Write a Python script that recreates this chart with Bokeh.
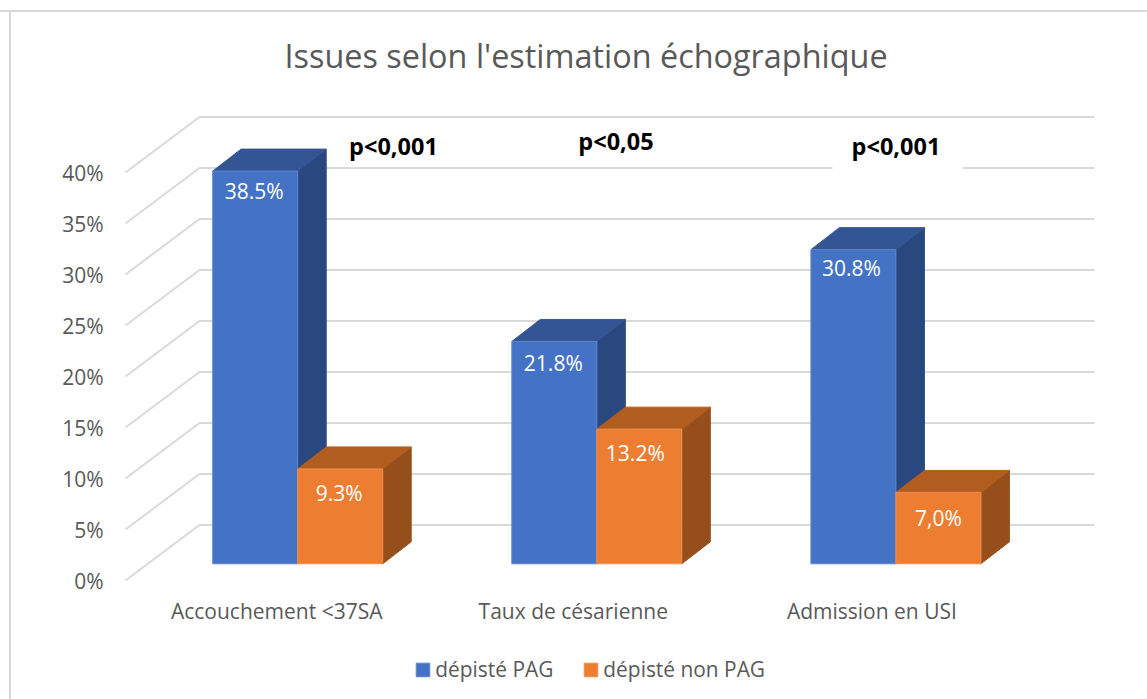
from bokeh.plotting import figure
from bokeh.models import (Range1d, LinearAxis, FixedTicker, Legend, LegendItem,
                          ColumnDataSource, NumeralTickFormatter)
from bokeh.embed import file_html
from bokeh.resources import INLINE
from bokeh.core.properties import value

# ---- data ----
categories = ["Accouchement <37SA", "Taux de césarienne", "Admission en USI"]
depiste_pag = [38.5, 21.8, 30.8]
depiste_non_pag = [9.3, 13.2, 7.0]
labels_pag = ["38.5%", "21.8%", "30.8%"]
labels_non_pag = ["9.3%", "13.2%", "7,0%"]
y_ticks = [0, 5, 10, 15, 20, 25, 30, 35, 40]
title_text = "Issues selon l'estimation échographique"
series_names = ["dépisté PAG", "dépisté non PAG"]
p_values = ["p<0,001", "p<0,05", "p<0,001"]

# ---- geometry: image pixels -> data ----
W, H = 1147, 699
FL, FR, FT, FB = 118, W, 95, H           # frame edges in image pixels
X0, XS = 297.2, 299.1                    # pixel of category 0 boundary, px per category
Y0, YS = 563.3, 10.2                     # pixel of value 0 at bar front, px per percent
xd = lambda px: (px - X0) / XS
yd = lambda px: (Y0 - px) / YS

BW = 85.0 / XS
BDX, BDY = 28.5 / XS, 22 / YS
WALL_F, WALL_B, WALL_R = xd(125), xd(199), xd(1094)
FRONT0, BACK0 = yd(580), yd(524.5)

GRID = "#D9D9D9"
TXT = "#595959"
BLUE, BLUE_SIDE, BLUE_TOP = "#4472C4", "#2A4880", "#335593"
ORANGE, ORANGE_SIDE, ORANGE_TOP = "#ED7D31", "#964F1B", "#B25D20"
FONT = "Open Sans"
LABEL_SIZE = "21px"

p = figure(width=W, height=H, output_backend="svg", toolbar_location=None,
           x_range=Range1d(xd(FL), xd(FR)), y_range=Range1d(yd(FB), yd(FT)),
           min_border_left=FL, min_border_right=0, min_border_top=FT,
           min_border_bottom=0, outline_line_color=None,
           x_axis_type=None, y_axis_type=None,
           background_fill_color=None, border_fill_color=None)
p.grid.visible = False
# chart area border (top and left edges)
p.styles = {
    "background": (
        f"linear-gradient({GRID},{GRID}) 0 10px/100% 2px no-repeat,"
        f"linear-gradient({GRID},{GRID}) 9px 10px/2px 100% no-repeat,white"
    )
}

# value axis
AY0, AYS = 580.7, 10.2
p.extra_y_ranges["ticks"] = Range1d((AY0 - FB) / AYS, (AY0 - FT) / AYS)
ax = LinearAxis(y_range_name="ticks", ticker=FixedTicker(ticks=y_ticks),
                formatter=NumeralTickFormatter(format="0"))
ax.major_label_overrides = {t: f"{t}%" for t in y_ticks}
ax.axis_line_color = None
ax.major_tick_line_color = None
ax.minor_tick_line_color = None
ax.major_tick_in = 0
ax.major_tick_out = 0
ax.major_label_standoff = 15
ax.major_label_text_font = FONT
ax.major_label_text_font_size = LABEL_SIZE
ax.major_label_text_color = TXT
p.add_layout(ax, "left")

idx = list(range(len(categories)))

# 3-D walls: gridlines with their floor-to-back diagonal
xs, ys = [], []
for t in y_ticks:
    xs.append([WALL_F, WALL_B, WALL_R])
    ys.append([FRONT0 + t, BACK0 + t, BACK0 + t])
p.multi_line(xs, ys, line_color=GRID, line_width=2)

# white patch behind the third p-value
p.rect([xd(897)], [yd(148)], width=130 / XS, height=48 / YS,
       fill_color="white", line_color=None)

# bars
def bars(vals, left_off, face, side, top, edge):
    left = [i + left_off for i in idx]
    right = [l + BW for l in left]
    sx = [[r, r + BDX, r + BDX, r] for r in right]
    sy = [[0, BDY, v + BDY, v] for v in vals]
    p.patches(sx, sy, fill_color=side, line_color=side, line_width=1)
    tx = [[l, l + BDX, r + BDX, r] for l, r in zip(left, right)]
    ty = [[v, v + BDY, v + BDY, v] for v in vals]
    p.patches(tx, ty, fill_color=top, line_color=top, line_width=1)
    src = ColumnDataSource(dict(x=[l + BW / 2 for l in left], top=vals))
    return p.vbar(x="x", top="top", bottom=0, width=BW, source=src,
                  fill_color=face, line_color=edge, line_width=1)

r_blue = bars(depiste_pag, -BW, BLUE, BLUE_SIDE, BLUE_TOP, "#6087CE")
r_orange = bars(depiste_non_pag, 0, ORANGE, ORANGE_SIDE, ORANGE_TOP, "#EF9050")

# data labels
lab_x = [i - BW / 2 for i in idx] + [i + BW / 2 for i in idx]
lab_y = depiste_pag + depiste_non_pag
lab_t = labels_pag + labels_non_pag
lab_dx = [-1, -1, -2, -1, -4, 0]
lab_dy = [20, 22, 18, 24, 24, 26]
p.text(x="x", y="y", text="t", x_offset="dx", y_offset="dy",
       source=ColumnDataSource(dict(x=lab_x, y=lab_y, t=lab_t, dx=lab_dx, dy=lab_dy)),
       text_align="center", text_baseline="middle", text_color="white",
       text_font=value(FONT), text_font_size=LABEL_SIZE)

# category labels
cat_dx = [-21, -23.5, -24]
p.text(x="x", y="y", text="t", x_offset="dx",
       source=ColumnDataSource(dict(x=idx, y=[yd(610)] * len(idx), t=categories, dx=cat_dx)),
       text_align="center", text_baseline="middle", text_color=TXT,
       text_font=value(FONT), text_font_size=LABEL_SIZE)

# p-values
pv_x = [xd(393), xd(615.5), xd(895.5)]
pv_y = [yd(145), yd(140.5), yd(145)]
p.text(pv_x, pv_y, text=p_values, text_align="center", text_baseline="middle",
       text_color="black", text_font=value(FONT), text_font_style="bold",
       text_font_size="23.5px")

# title
p.title.text = title_text
p.title.align = "left"
p.title.offset = 284 - FL
p.title.standoff = 38
p.title.text_font = FONT
p.title.text_font_style = "normal"
p.title.text_font_size = "32.4px"
p.title.text_color = TXT

# legend (vector legend glyphs are inset by 10% of their box)
leg = Legend(items=[LegendItem(label=series_names[0], renderers=[r_blue]),
                    LegendItem(label=series_names[1], renderers=[r_orange])],
             orientation="horizontal", location=(296.25, 16),
             glyph_width=17, glyph_height=17, label_standoff=4, spacing=29,
             padding=0, margin=0, border_line_color=None, background_fill_color=None,
             label_text_font=FONT, label_text_font_size="20.9px", label_text_color=TXT)
p.add_layout(leg)

open("out.html", "w").write(file_html(p, INLINE))
